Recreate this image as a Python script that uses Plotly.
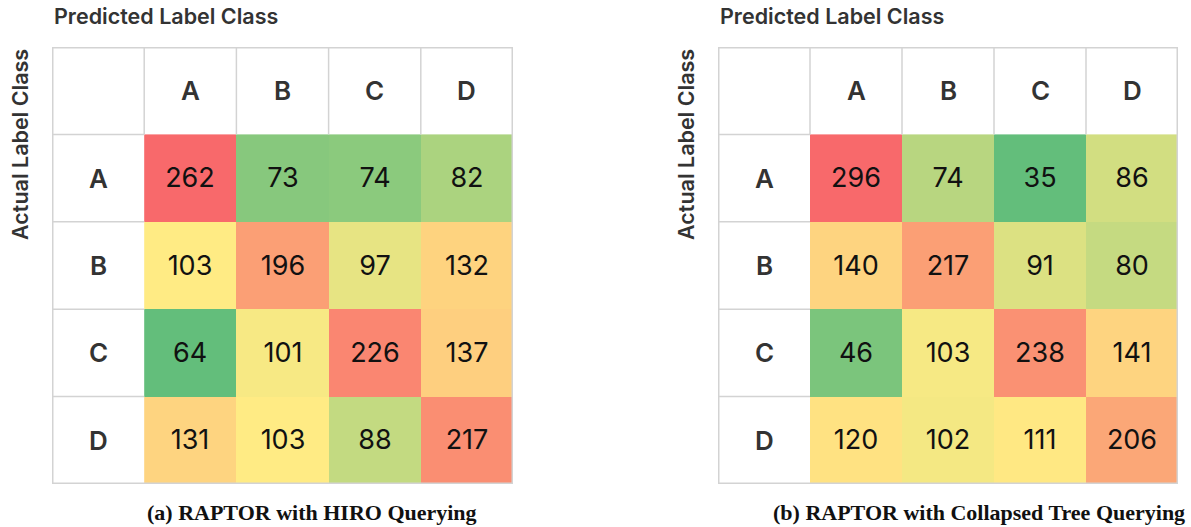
import numpy as np
import plotly.graph_objects as go

classes = ["A", "B", "C", "D"]
hiro_values = [
    [262, 73, 74, 82],
    [103, 196, 97, 132],
    [64, 101, 226, 137],
    [131, 103, 88, 217],
]
collapsed_values = [
    [296, 74, 35, 86],
    [140, 217, 91, 80],
    [46, 103, 238, 141],
    [120, 102, 111, 206],
]
captions = ["(a) RAPTOR with HIRO Querying", "(b) RAPTOR with Collapsed Tree Querying"]
x_title = "Predicted Label Class"
y_title = "Actual Label Class"

GREEN, YELLOW, RED = "#63BE7B", "#FFEB84", "#F8696B"
GRID = "#d3d3d3"

W, H = 1191, 527
panels = [
    dict(vals=hiro_values, x0=52, x1=513, cap_x=312),
    dict(vals=collapsed_values, x0=718, x1=1178, cap_x=979),
]
top_px, bot_px = 47, 484

fig = go.Figure()
idx = list(range(len(classes)))
n = len(classes)

for k, p in enumerate(panels):
    sfx = "" if k == 0 else "2"
    xa, ya = "x" + sfx, "y" + sfx
    z = np.array(p["vals"])
    zmin, zmax, zmed = z.min(), z.max(), np.median(z)
    mid = (zmed - zmin) / (zmax - zmin)
    fig.add_trace(go.Heatmap(
        z=z, x=idx, y=idx, xaxis=xa, yaxis=ya,
        zmin=zmin, zmax=zmax,
        colorscale=[[0, GREEN], [mid, YELLOW], [1, RED]],
        showscale=False,
        texttemplate="%{z}",
        textfont=dict(family="Inter, Roboto, sans-serif", size=27, color="#111111"),
        hoverinfo="skip",
    ))
    dom = [p["x0"] / W, p["x1"] / W]
    ydom = [1 - bot_px / H, 1 - top_px / H]
    fig.update_layout(**{
        ("xaxis" + sfx): dict(domain=dom, range=[-1.5, n - 0.5], showgrid=False,
                               zeroline=False, showticklabels=False, fixedrange=True,
                               anchor=ya),
        ("yaxis" + sfx): dict(domain=ydom, range=[n - 0.5, -1.5], showgrid=False,
                               zeroline=False, showticklabels=False, fixedrange=True,
                               anchor=xa),
    })
    # header labels
    for i, c in enumerate(classes):
        fig.add_annotation(x=i, y=-1, xref=xa, yref=ya, text=c, showarrow=False,
                           font=dict(family="Inter, sans-serif", size=26, color="#333333",
                                     weight=600))
        fig.add_annotation(x=-1, y=i, xref=xa, yref=ya, text=c, showarrow=False,
                           font=dict(family="Inter, sans-serif", size=26, color="#333333",
                                     weight=600))
    # header grid lines
    for b in [-0.5 + i for i in range(n)]:
        fig.add_shape(type="line", xref=xa, yref=ya, x0=b, x1=b, y0=-1.5, y1=-0.5,
                      line=dict(color=GRID, width=1.5))
        fig.add_shape(type="line", xref=xa, yref=ya, x0=-1.5, x1=-0.5, y0=b, y1=b,
                      line=dict(color=GRID, width=1.5))
    # outer border
    fig.add_shape(type="rect", xref=xa, yref=ya, x0=-1.5, x1=n - 0.5, y0=-1.5, y1=n - 0.5,
                  line=dict(color=GRID, width=3))
    # titles
    fig.add_annotation(x=p["x0"] / W, y=1 - 16 / H, xref="paper", yref="paper",
                       text=x_title, showarrow=False, xanchor="left", yanchor="middle",
                       font=dict(family="Inter, sans-serif", size=21.5, color="#333333",
                                 weight=600))
    fig.add_annotation(x=(p["x0"] - 32) / W, y=1 - 145 / H, xref="paper", yref="paper",
                       text=y_title, showarrow=False, textangle=-90,
                       xanchor="center", yanchor="middle",
                       font=dict(family="Inter, sans-serif", size=21.5, color="#333333",
                                 weight=600))
    fig.add_annotation(x=p["cap_x"] / W, y=1 - 512 / H, xref="paper", yref="paper",
                       text="<b>" + captions[k] + "</b>", showarrow=False,
                       xanchor="center", yanchor="middle",
                       font=dict(family="Liberation Serif, serif", size=22, color="#111111"))

fig.update_layout(width=W, height=H, margin=dict(l=0, r=0, t=0, b=0),
                  paper_bgcolor="white", plot_bgcolor="white", showlegend=False)
fig.write_html("out.html", config={"displayModeBar": False},
               post_script="document.body.style.margin='0';document.body.style.overflow='hidden';")
